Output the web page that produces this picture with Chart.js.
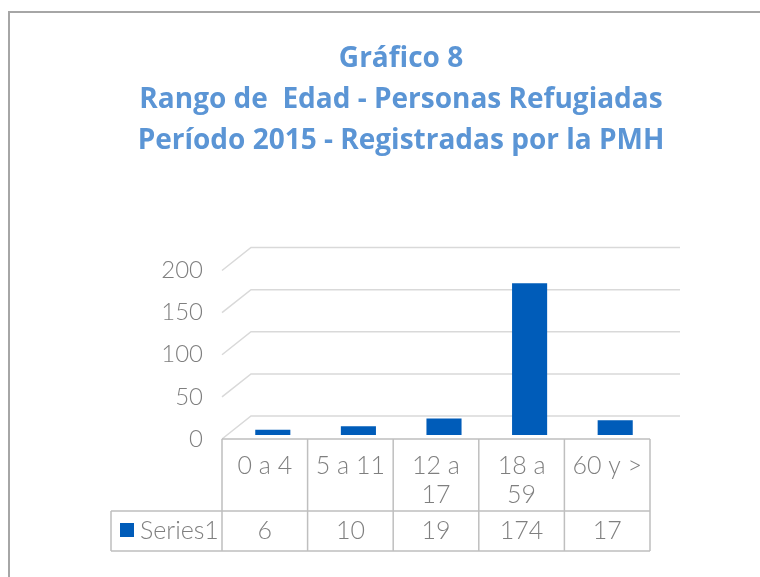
<!DOCTYPE html>
<html>
<head>
<meta charset="utf-8">
<script src="https://cdn.jsdelivr.net/npm/chart.js@4.4.0/dist/chart.umd.min.js"></script>
<style>
  body { margin: 0; width: 760px; height: 577px; overflow: hidden; background: #fff; position: relative; }
  #frame { position: absolute; left: 8px; top: 11px; width: 820px; height: 640px; border: 2px solid #a6a6a6; }
  #chart { position: absolute; left: 0; top: 0; }
</style>
</head>
<body>
<div id="frame"></div>
<canvas id="chart" width="760" height="577"></canvas>
<script>
// data
var categories = ["0 a 4", "5 a 11", ["12 a", "17"], ["18 a", "59"], "60 y >"];
var series1 = [6, 10, 19, 174, 17];
var seriesName = "Series1";
var tickValues = [0, 50, 100, 150, 200];
var titleLines = ["Gráfico 8", "Rango de  Edad - Personas Refugiadas", "Período 2015 - Registradas por la PMH"];

var barColor = "#005cb9";
var textGray = "#7f7f7f";
var gridGray = "#d9d9d9";
var tableGray = "#bfbfbf";
var font = "Lato, 'Open Sans', sans-serif";

// front edge of the 3d box sits a little lower and flatter than the bars plane
var WALL_MIN = 4.75, WALL_MAX = 211.9;
var DEPTH_X = 29, DEPTH_Y = -23, BAR_SHIFT = 8;

var box3d = {
  id: "box3d",
  beforeDatasetsDraw: function (chart) {
    var ctx = chart.ctx;
    var wall = chart.scales.yWall;
    var area = chart.chartArea;
    ctx.save();
    ctx.strokeStyle = gridGray;
    ctx.lineWidth = 1.5;
    tickValues.forEach(function (v) {
      var fy = wall.getPixelForValue(v);
      ctx.beginPath();
      ctx.moveTo(area.left, fy);
      ctx.lineTo(area.left + DEPTH_X, fy + DEPTH_Y);
      ctx.lineTo(area.right + DEPTH_X + 1, fy + DEPTH_Y);
      ctx.stroke();
    });
    ctx.restore();
    ctx.save();
    ctx.translate(BAR_SHIFT, 0);
  },
  afterDatasetsDraw: function (chart) {
    chart.ctx.restore();
  },
  afterDraw: function (chart) {
    var ctx = chart.ctx;
    var x = chart.scales.x;
    var area = chart.chartArea;
    var n = categories.length;
    var colW = (area.right - area.left) / n;
    var top = area.bottom + 4;
    var headBottom = top + 72;
    var bottom = headBottom + 40;
    var keyLeft = 111;

    ctx.save();
    ctx.strokeStyle = tableGray;
    ctx.lineWidth = 1.5;
    ctx.beginPath();
    ctx.moveTo(area.left, top); ctx.lineTo(area.right, top);
    ctx.moveTo(keyLeft, headBottom); ctx.lineTo(area.right, headBottom);
    ctx.moveTo(keyLeft, bottom); ctx.lineTo(area.right, bottom);
    ctx.moveTo(keyLeft, headBottom); ctx.lineTo(keyLeft, bottom);
    for (var i = 0; i <= n; i++) {
      var cx = area.left + i * colW;
      ctx.moveTo(cx, top); ctx.lineTo(cx, bottom);
    }
    ctx.stroke();

    ctx.fillStyle = textGray;
    ctx.font = "300 25px " + font;
    ctx.textAlign = "center";
    ctx.textBaseline = "middle";
    categories.forEach(function (lab, i) {
      var cx = x.getPixelForValue(i);
      var lines = Array.isArray(lab) ? lab : [lab];
      lines.forEach(function (t, k) {
        ctx.fillText(t, cx, top + 27 + k * 29);
      });
      ctx.fillText(String(series1[i]), cx, headBottom + 20);
    });

    ctx.fillStyle = barColor;
    ctx.fillRect(keyLeft + 9, headBottom + 12, 14, 14);
    ctx.fillStyle = textGray;
    ctx.textAlign = "left";
    ctx.fillText(seriesName, keyLeft + 29, headBottom + 20);
    ctx.restore();
  }
};

var ctx = document.getElementById("chart");
var myChart = new Chart(ctx, {
  type: "bar",
  data: {
    labels: categories,
    datasets: [
      {
        label: seriesName,
        data: series1,
        backgroundColor: barColor,
        yAxisID: "y",
        categoryPercentage: 1,
        barPercentage: 0.41
      }
    ]
  },
  options: {
    responsive: false,
    animation: false,
    devicePixelRatio: 1,
    layout: { padding: { left: 42, right: 0, top: 0, bottom: 142 } },
    plugins: {
      legend: { display: false },
      tooltip: { enabled: false },
      title: {
        display: true,
        text: titleLines,
        color: "#5b95d5",
        font: { family: "'Open Sans', sans-serif", size: 28, weight: "bold", lineHeight: 1.464 },
        padding: { top: 39, bottom: 98.5 }
      }
    },
    scales: {
      x: { display: false },
      y: {
        position: "right",
        min: 0,
        max: 200,
        grid: { display: false, drawTicks: false },
        border: { display: false },
        ticks: { display: false },
        afterFit: function (s) { s.width = 110; }
      },
      yWall: {
        type: "linear",
        position: "left",
        min: WALL_MIN,
        max: WALL_MAX,
        grid: { display: false, drawTicks: false },
        border: { display: false },
        afterBuildTicks: function (s) { s.ticks = tickValues.map(function (v) { return { value: v }; }); },
        ticks: { color: textGray, padding: 19, font: { family: font, size: 24, weight: 300 } },
        afterFit: function (s) { s.width = 180; }
      }
    }
  },
  plugins: [box3d]
});
</script>
</body>
</html>
